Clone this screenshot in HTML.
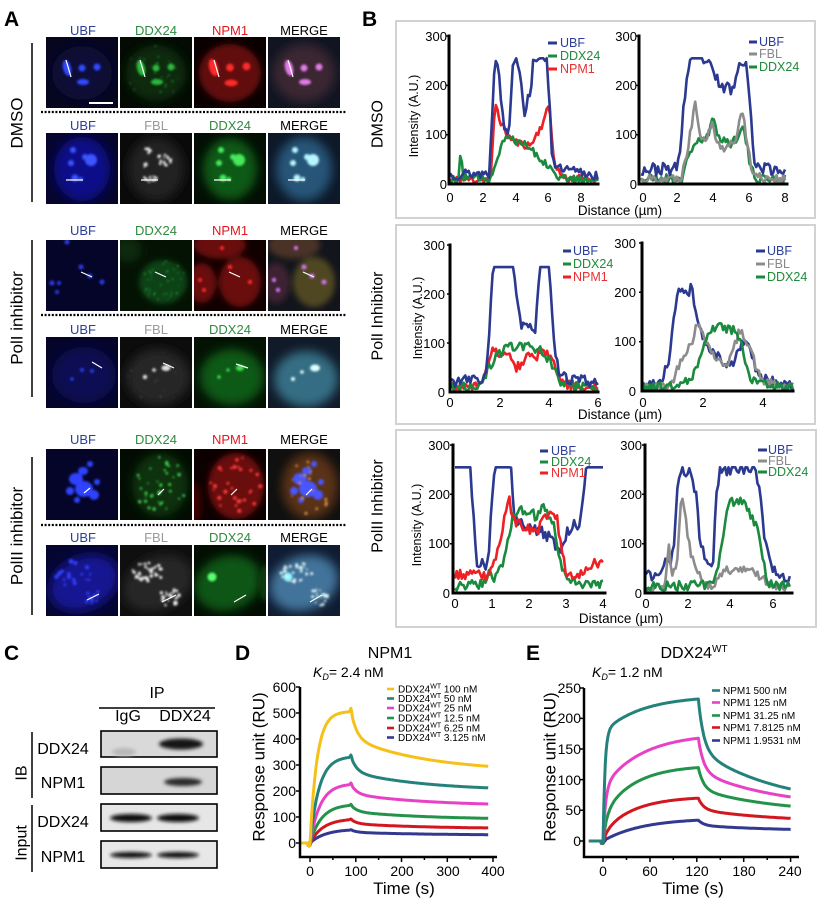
<!DOCTYPE html>
<html><head><meta charset="utf-8"><style>
html,body{margin:0;padding:0;background:#fff;}
svg{display:block;font-family:"Liberation Sans",Arial,sans-serif;}
</style></head><body>
<svg id="S" width="824" height="901" viewBox="0 0 824 901" xmlns="http://www.w3.org/2000/svg">
<defs>
<clipPath id="tc"><rect width="72" height="71"/></clipPath>
<filter id="b1" x="-50%" y="-50%" width="200%" height="200%"><feGaussianBlur stdDeviation="1"/></filter>
<filter id="b2" x="-50%" y="-50%" width="200%" height="200%"><feGaussianBlur stdDeviation="1.8"/></filter>
<filter id="b3" x="-30%" y="-30%" width="160%" height="160%"><feGaussianBlur stdDeviation="3"/></filter>
<filter id="b6" x="-30%" y="-30%" width="160%" height="160%"><feGaussianBlur stdDeviation="5"/></filter>
<g id="r1b"><ellipse cx="21" cy="31" rx="4" ry="8" transform="rotate(-15 21 31)"/><circle cx="36" cy="31" r="3.5"/><circle cx="51" cy="30" r="3.5"/><ellipse cx="37" cy="45" rx="6" ry="3"/></g>
<g id="r2b"><circle cx="27" cy="17" r="3"/><circle cx="25" cy="30" r="3"/><ellipse cx="45" cy="27" rx="6" ry="6"/><circle cx="39" cy="24" r="3"/><circle cx="29" cy="45" r="3.5"/><circle cx="35" cy="46" r="2"/></g>
<g id="r5b"><ellipse cx="30" cy="30" rx="7" ry="6"/><ellipse cx="38" cy="40" rx="9" ry="8"/><ellipse cx="48" cy="46" rx="5" ry="5"/><ellipse cx="24" cy="42" rx="4" ry="4"/><ellipse cx="37" cy="22" rx="5" ry="4"/><circle cx="51" cy="33" r="3"/><circle cx="31" cy="51" r="3"/><circle cx="44" cy="15" r="3"/></g>
</defs>
<rect width="824" height="901" fill="#fff"/>

<!-- Panel letters -->
<g font-weight="bold" font-size="21" fill="#000">
<text x="4" y="26">A</text><text x="362" y="26">B</text>
<text x="4" y="660">C</text><text x="235" y="660">D</text><text x="526" y="660">E</text>
</g>

<!-- Panel A headers -->
<g font-size="13" text-anchor="middle">
<g transform="translate(0,35)"><text x="83" fill="#2b3e9a">UBF</text><text x="156" fill="#2e8b3e">DDX24</text><text x="230" fill="#e5161d">NPM1</text><text x="304" fill="#000">MERGE</text></g>
<g transform="translate(0,130)"><text x="83" fill="#2b3e9a">UBF</text><text x="156" fill="#9a9a9a">FBL</text><text x="230" fill="#2e8b3e">DDX24</text><text x="304" fill="#000">MERGE</text></g>
<g transform="translate(0,235)"><text x="83" fill="#2b3e9a">UBF</text><text x="156" fill="#2e8b3e">DDX24</text><text x="230" fill="#e5161d">NPM1</text><text x="304" fill="#000">MERGE</text></g>
<g transform="translate(0,334)"><text x="83" fill="#2b3e9a">UBF</text><text x="156" fill="#9a9a9a">FBL</text><text x="230" fill="#2e8b3e">DDX24</text><text x="304" fill="#000">MERGE</text></g>
<g transform="translate(0,444)"><text x="83" fill="#2b3e9a">UBF</text><text x="156" fill="#2e8b3e">DDX24</text><text x="230" fill="#e5161d">NPM1</text><text x="304" fill="#000">MERGE</text></g>
<g transform="translate(0,542)"><text x="83" fill="#2b3e9a">UBF</text><text x="156" fill="#9a9a9a">FBL</text><text x="230" fill="#2e8b3e">DDX24</text><text x="304" fill="#000">MERGE</text></g>
</g>
<g font-size="17" text-anchor="middle" dominant-baseline="central">
<text transform="translate(17,123) rotate(-90)">DMSO</text>
<text transform="translate(17,318) rotate(-90)">PolI inhibitor</text>
<text transform="translate(17,536) rotate(-90)">PolII inhibitor</text>
</g>
<g stroke="#000" stroke-width="1.5"><line x1="32" y1="43" x2="32" y2="202"/><line x1="32" y1="240" x2="32" y2="397"/><line x1="32" y1="457" x2="32" y2="615"/></g>
<g stroke="#000" stroke-width="2.2" stroke-dasharray="2,1.6"><line x1="41" y1="112" x2="347" y2="112"/><line x1="41" y1="315" x2="347" y2="315"/><line x1="41" y1="525" x2="347" y2="525"/></g>

<!-- ROW 1 -->
<g transform="translate(46,37)" clip-path="url(#tc)"><rect width="72" height="71" fill="#06061f"/><ellipse cx="36" cy="36" rx="30" ry="27" fill="#0a0a38" filter="url(#b6)"/><use href="#r1b" fill="#3048ff" filter="url(#b1)"/><line x1="20" y1="23" x2="25" y2="40" stroke="#fff" stroke-width="1.2"/><line x1="43" y1="66" x2="67" y2="66" stroke="#fff" stroke-width="2"/></g>
<g transform="translate(120,37)" clip-path="url(#tc)"><rect width="72" height="71" fill="#030b03"/><ellipse cx="36" cy="36" rx="30" ry="28" fill="#092a0c" filter="url(#b6)"/><g id="s11"></g><use href="#r1b" fill="#2cb83e" filter="url(#b1)"/><line x1="20" y1="23" x2="25" y2="40" stroke="#fff" stroke-width="1.2"/></g>
<g transform="translate(194,37)" clip-path="url(#tc)"><rect width="72" height="71" fill="#0a0000"/><ellipse cx="36" cy="36" rx="31" ry="29" fill="#620a0a" filter="url(#b3)"/><use href="#r1b" fill="#ff2a2a" filter="url(#b1)" transform="translate(-3.6,-3.6) scale(1.1)"/><line x1="20" y1="23" x2="25" y2="40" stroke="#fff" stroke-width="1.2"/></g>
<g transform="translate(268,37)" clip-path="url(#tc)"><rect width="72" height="71" fill="#111522"/><ellipse cx="36" cy="36" rx="31" ry="29" fill="#3a2830" filter="url(#b6)"/><use href="#r1b" fill="#e37ae8" filter="url(#b1)"/><line x1="20" y1="23" x2="25" y2="40" stroke="#fff" stroke-width="1.2"/></g>

<!-- ROW 2 -->
<g transform="translate(46,133)" clip-path="url(#tc)"><rect width="72" height="71" fill="#05052e"/><ellipse cx="36" cy="36" rx="28" ry="32" fill="#10108a" filter="url(#b6)"/><use href="#r2b" fill="#3a55ff" filter="url(#b1)"/><line x1="20" y1="47" x2="37" y2="47" stroke="#fff" stroke-width="1.2"/></g>
<g transform="translate(120,133)" clip-path="url(#tc)"><rect width="72" height="71" fill="#0a0a0a"/><ellipse cx="36" cy="36" rx="28" ry="32" fill="#202020" filter="url(#b6)"/><g id="s22"></g><line x1="21" y1="47" x2="38" y2="47" stroke="#fff" stroke-width="1.2"/></g>
<g transform="translate(194,133)" clip-path="url(#tc)"><rect width="72" height="71" fill="#030e04"/><ellipse cx="36" cy="36" rx="27" ry="31" fill="#0d5a18" filter="url(#b6)"/><use href="#r2b" fill="#46e85a" filter="url(#b1)"/><line x1="20" y1="47" x2="37" y2="47" stroke="#fff" stroke-width="1.2"/></g>
<g transform="translate(268,133)" clip-path="url(#tc)"><rect width="72" height="71" fill="#0d1828"/><ellipse cx="36" cy="36" rx="28" ry="32" fill="#285578" filter="url(#b6)"/><use href="#r2b" fill="#b8f6ff" filter="url(#b1)"/><line x1="20" y1="47" x2="37" y2="47" stroke="#fff" stroke-width="1.2"/></g>

<!-- ROW 3 -->
<g transform="translate(46,240)" clip-path="url(#tc)"><rect width="72" height="71" fill="#05052a"/><g fill="#2a3ae8" filter="url(#b1)"><circle cx="21" cy="2" r="2.5"/><circle cx="35" cy="27" r="2.5"/><circle cx="6" cy="43" r="2.5"/><circle cx="13" cy="43" r="2"/><circle cx="11" cy="52" r="2"/><circle cx="56" cy="42" r="2.5"/><circle cx="44" cy="36" r="2.5"/></g><line x1="35" y1="32" x2="46" y2="37" stroke="#fff" stroke-width="1.2"/></g>
<g transform="translate(120,240)" clip-path="url(#tc)"><rect width="72" height="71" fill="#041204"/><ellipse cx="43" cy="42" rx="24" ry="22" fill="#0c4212" filter="url(#b3)"/><ellipse cx="8" cy="10" rx="14" ry="12" fill="#082a0a" filter="url(#b6)"/><g id="s32"></g><line x1="35" y1="32" x2="46" y2="37" stroke="#fff" stroke-width="1.2"/></g>
<g transform="translate(194,240)" clip-path="url(#tc)"><rect width="72" height="71" fill="#100000"/><g fill="#6a0a0a" filter="url(#b3)"><ellipse cx="26" cy="5" rx="26" ry="14"/><ellipse cx="8" cy="43" rx="14" ry="20"/><ellipse cx="46" cy="42" rx="21" ry="25"/></g><g fill="#ff2a2a" filter="url(#b1)"><circle cx="36" cy="27" r="2.2"/><circle cx="56" cy="42" r="2.2"/><circle cx="6" cy="40" r="2"/><circle cx="10" cy="50" r="2"/><circle cx="28" cy="8" r="2"/></g><line x1="35" y1="32" x2="46" y2="37" stroke="#fff" stroke-width="1.2"/></g>
<g transform="translate(268,240)" clip-path="url(#tc)"><rect width="72" height="71" fill="#13151c"/><g filter="url(#b3)"><ellipse cx="26" cy="5" rx="26" ry="14" fill="#4a3228"/><ellipse cx="8" cy="43" rx="14" ry="20" fill="#3e2430"/><ellipse cx="46" cy="42" rx="21" ry="25" fill="#504620"/></g><g fill="#d070f0" filter="url(#b1)"><circle cx="36" cy="27" r="2.5"/><circle cx="56" cy="42" r="2.5"/><circle cx="6" cy="40" r="2.2"/><circle cx="10" cy="50" r="2.2"/><circle cx="28" cy="8" r="2.2"/><circle cx="44" cy="36" r="2.5"/></g><line x1="35" y1="32" x2="46" y2="37" stroke="#fff" stroke-width="1.2"/></g>

<!-- ROW 4 -->
<g transform="translate(46,337)" clip-path="url(#tc)"><rect width="72" height="71" fill="#05052a"/><ellipse cx="38" cy="38" rx="32" ry="28" fill="#0c0c52" filter="url(#b6)"/><g fill="#2a3ae8" filter="url(#b1)"><circle cx="36" cy="33" r="2"/><circle cx="46" cy="34" r="2"/><circle cx="26" cy="42" r="1.8"/></g><line x1="46" y1="25" x2="56" y2="31" stroke="#fff" stroke-width="1.2"/></g>
<g transform="translate(120,337)" clip-path="url(#tc)"><rect width="72" height="71" fill="#0c0c0c"/><ellipse cx="38" cy="40" rx="32" ry="28" fill="#262626" filter="url(#b6)"/><g id="s42"></g><g fill="#e0e0e0" filter="url(#b1)"><circle cx="25" cy="40" r="2.2"/><circle cx="34" cy="33" r="1.8"/><ellipse cx="46" cy="31" rx="4.5" ry="3"/></g><line x1="43" y1="26" x2="54" y2="31" stroke="#fff" stroke-width="1.2"/></g>
<g transform="translate(194,337)" clip-path="url(#tc)"><rect width="72" height="71" fill="#041204"/><ellipse cx="38" cy="40" rx="32" ry="28" fill="#105a19" filter="url(#b6)"/><g fill="#40e050" filter="url(#b1)"><circle cx="25" cy="40" r="1.8"/><circle cx="34" cy="33" r="1.6"/><ellipse cx="46" cy="31" rx="4" ry="3"/></g><line x1="42" y1="27" x2="54" y2="31" stroke="#fff" stroke-width="1.2"/></g>
<g transform="translate(268,337)" clip-path="url(#tc)"><rect width="72" height="71" fill="#101a28"/><ellipse cx="38" cy="42" rx="32" ry="28" fill="#356e84" filter="url(#b6)"/><g fill="#e0ffff" filter="url(#b1)"><circle cx="25" cy="42" r="2"/><circle cx="34" cy="35" r="1.8"/><ellipse cx="47" cy="31" rx="5" ry="3.5"/></g></g>

<!-- ROW 5 -->
<g transform="translate(46,449)" clip-path="url(#tc)"><rect width="72" height="71" fill="#05052a"/><use href="#r5b" fill="#2e42ff" filter="url(#b1)"/><line x1="38" y1="44" x2="44" y2="39" stroke="#fff" stroke-width="1.2"/></g>
<g transform="translate(120,449)" clip-path="url(#tc)"><rect width="72" height="71" fill="#020c02"/><ellipse cx="40" cy="36" rx="28" ry="32" fill="#0a320e" filter="url(#b6)"/><g id="s52"></g><line x1="38" y1="46" x2="44" y2="40" stroke="#fff" stroke-width="1.2"/></g>
<g transform="translate(194,449)" clip-path="url(#tc)"><rect width="72" height="71" fill="#0c0000"/><ellipse cx="0" cy="55" rx="8" ry="22" fill="#3a0606" filter="url(#b3)"/><ellipse cx="42" cy="37" rx="28" ry="33" fill="#6a0c0c" filter="url(#b3)"/><g id="s53"></g><line x1="37" y1="46" x2="43" y2="40" stroke="#fff" stroke-width="1.2"/></g>
<g transform="translate(268,449)" clip-path="url(#tc)"><rect width="72" height="71" fill="#101010"/><ellipse cx="42" cy="37" rx="28" ry="33" fill="#5a3018" filter="url(#b6)"/><use href="#r5b" fill="#4a55ff" filter="url(#b1)" transform="translate(2,0)"/><g id="s54"></g><line x1="38" y1="46" x2="44" y2="40" stroke="#fff" stroke-width="1.2"/></g>

<!-- ROW 6 -->
<g transform="translate(46,545)" clip-path="url(#tc)"><rect width="72" height="71" fill="#050532"/><ellipse cx="38" cy="38" rx="36" ry="26" transform="rotate(-25 38 38)" fill="#131392" filter="url(#b6)"/><g id="s61"></g><line x1="41" y1="55" x2="53" y2="49" stroke="#fff" stroke-width="1.2"/></g>
<g transform="translate(120,545)" clip-path="url(#tc)"><rect width="72" height="71" fill="#0f0f0f"/><ellipse cx="38" cy="38" rx="36" ry="26" transform="rotate(-25 38 38)" fill="#262626" filter="url(#b6)"/><g id="s62"></g><line x1="42" y1="57" x2="56" y2="50" stroke="#fff" stroke-width="1.2"/></g>
<g transform="translate(194,545)" clip-path="url(#tc)"><rect width="72" height="71" fill="#030e03"/><ellipse cx="34" cy="38" rx="34" ry="27" transform="rotate(-20 34 38)" fill="#0e5618" filter="url(#b6)"/><ellipse cx="72" cy="38" rx="8" ry="18" fill="#0a3a10" filter="url(#b3)"/><circle cx="18" cy="32" r="4.5" fill="#5cff70" filter="url(#b1)"/><line x1="40" y1="57" x2="52" y2="50" stroke="#fff" stroke-width="1.2"/></g>
<g transform="translate(268,545)" clip-path="url(#tc)"><rect width="72" height="71" fill="#0f1c32"/><ellipse cx="36" cy="38" rx="35" ry="27" transform="rotate(-20 36 38)" fill="#42739a" filter="url(#b6)"/><circle cx="20" cy="32" r="4.5" fill="#8ff8ff" filter="url(#b1)"/><g id="s64"></g><line x1="42" y1="57" x2="54" y2="50" stroke="#fff" stroke-width="1.2"/></g>

<!-- Panel B boxes -->
<g fill="none" stroke="#d2d2d2" stroke-width="2">
<rect x="396" y="21" width="419" height="197"/>
<rect x="396" y="225" width="419" height="199"/>
<rect x="396" y="430" width="420" height="197"/>
</g>
<g font-size="16" text-anchor="middle" dominant-baseline="central">
<text transform="translate(378,124) rotate(-90)">DMSO</text>
<text transform="translate(378,316) rotate(-90)">PolI Inhibitor</text>
<text transform="translate(378,506) rotate(-90)">PolII Inhibitor</text>
</g>
<g font-size="12.5" text-anchor="middle" dominant-baseline="central">
<text transform="translate(414,116) rotate(-90)">Intensity (A.U.)</text>
<text transform="translate(418,318) rotate(-90)">Intensity (A.U.)</text>
<text transform="translate(417,525) rotate(-90)">Intensity (A.U.)</text>
</g>
<g font-size="13.5" text-anchor="middle">
<text x="620" y="215">Distance (µm)</text>
<text x="620" y="419">Distance (µm)</text>
<text x="621" y="623">Distance (µm)</text>
</g>

<!-- traces containers -->
<g id="p1l"></g><g id="p1r"></g><g id="p2l"></g><g id="p2r"></g><g id="p3l"></g><g id="p3r"></g>

<!-- B axes -->
<g stroke="#000" stroke-width="3" fill="none" stroke-linecap="square">
<path d="M449 36 V184 H598"/><path d="M639 36 V184 H787"/>
<path d="M450 245 V392 H598"/><path d="M642 243 V391 H793"/>
<path d="M453 445 V593 H605"/><path d="M645 445 V593 H792"/>
</g>
<g stroke="#000" stroke-width="1.5">
<path d="M446 36H449M446 85.4H449M446 134.7H449M639 36H636M639 85.4H636M639 134.7H636"/>
<path d="M447 245H450M447 294H450M447 343H450M642 243H639M642 292.3H639M642 341.7H639"/>
<path d="M450 445H453M450 494.3H453M450 543.7H453M645 445H642M645 494.3H642M645 543.7H642"/>
</g>
<g font-size="13" text-anchor="end">
<text x="447" y="41">300</text><text x="447" y="90">200</text><text x="447" y="139">100</text><text x="447" y="189">0</text>
<text x="637" y="41">300</text><text x="637" y="90">200</text><text x="637" y="139">100</text><text x="637" y="189">0</text>
<text x="445" y="250">300</text><text x="445" y="299">200</text><text x="445" y="348">100</text><text x="445" y="397">0</text>
<text x="636" y="248">300</text><text x="636" y="297">200</text><text x="636" y="346">100</text><text x="636" y="396">0</text>
<text x="450" y="450">300</text><text x="450" y="499">200</text><text x="450" y="548">100</text><text x="450" y="598">0</text>
<text x="642" y="450">300</text><text x="642" y="499">200</text><text x="642" y="548">100</text><text x="642" y="598">0</text>
</g>
<g font-size="13" text-anchor="middle">
<text x="450" y="202">0</text><text x="483" y="202">2</text><text x="516" y="202">4</text><text x="548" y="202">6</text><text x="581" y="202">8</text>
<text x="643" y="202">0</text><text x="677" y="202">2</text><text x="713" y="202">4</text><text x="749" y="202">6</text><text x="785" y="202">8</text>
<text x="450" y="407">0</text><text x="500" y="407">2</text><text x="549" y="407">4</text><text x="598" y="407">6</text>
<text x="643" y="407">0</text><text x="703" y="407">2</text><text x="763" y="407">4</text>
<text x="455" y="608">0</text><text x="492" y="608">1</text><text x="529" y="608">2</text><text x="566" y="608">3</text><text x="603" y="608">4</text>
<text x="646" y="608">0</text><text x="688" y="608">2</text><text x="730" y="608">4</text><text x="773" y="608">6</text>
</g>
<!-- B legends -->
<g stroke-width="3">
<line x1="548" y1="43" x2="557" y2="43" stroke="#2b3990"/><line x1="548" y1="56" x2="557" y2="56" stroke="#1a8a3e"/><line x1="548" y1="69" x2="557" y2="69" stroke="#ed2024"/>
<line x1="749" y1="42" x2="757" y2="42" stroke="#2b3990"/><line x1="749" y1="54" x2="757" y2="54" stroke="#8c8c8c"/><line x1="749" y1="67" x2="757" y2="67" stroke="#1a8a3e"/>
<line x1="563" y1="251" x2="571" y2="251" stroke="#2b3990"/><line x1="563" y1="264" x2="571" y2="264" stroke="#1a8a3e"/><line x1="563" y1="277" x2="571" y2="277" stroke="#ed2024"/>
<line x1="756" y1="251" x2="765" y2="251" stroke="#2b3990"/><line x1="756" y1="264" x2="765" y2="264" stroke="#8c8c8c"/><line x1="756" y1="277" x2="765" y2="277" stroke="#1a8a3e"/>
<line x1="540" y1="451" x2="548" y2="451" stroke="#2b3990"/><line x1="540" y1="462" x2="548" y2="462" stroke="#1a8a3e"/><line x1="540" y1="473" x2="548" y2="473" stroke="#ed2024"/>
<line x1="758" y1="450" x2="767" y2="450" stroke="#2b3990"/><line x1="758" y1="461" x2="767" y2="461" stroke="#8c8c8c"/><line x1="758" y1="472" x2="767" y2="472" stroke="#1a8a3e"/>
</g>
<g font-size="12.5">
<text x="560" y="47" fill="#2b3e9a">UBF</text><text x="560" y="60" fill="#1f8a3a">DDX24</text><text x="560" y="73" fill="#e83030">NPM1</text>
<text x="759" y="46" fill="#2b3e9a">UBF</text><text x="759" y="58" fill="#888">FBL</text><text x="759" y="71" fill="#1f8a3a">DDX24</text>
<text x="573" y="255" fill="#2b3e9a">UBF</text><text x="573" y="268" fill="#1f8a3a">DDX24</text><text x="573" y="281" fill="#e83030">NPM1</text>
<text x="767" y="255" fill="#2b3e9a">UBF</text><text x="767" y="268" fill="#888">FBL</text><text x="767" y="281" fill="#1f8a3a">DDX24</text>
<text x="551" y="455" fill="#2b3e9a">UBF</text><text x="551" y="466" fill="#1f8a3a">DDX24</text><text x="551" y="477" fill="#e83030">NPM1</text>
<text x="768" y="454" fill="#2b3e9a">UBF</text><text x="768" y="465" fill="#888">FBL</text><text x="768" y="476" fill="#1f8a3a">DDX24</text>
</g>

<!-- Panel C -->
<g font-size="16">
<text x="157" y="698" text-anchor="middle">IP</text>
<line x1="99" y1="708" x2="215" y2="708" stroke="#000" stroke-width="1.5"/>
<text x="128" y="721" text-anchor="middle">IgG</text><text x="185" y="721" text-anchor="middle">DDX24</text>
<g text-anchor="middle"><text x="63" y="754">DDX24</text><text x="63" y="788">NPM1</text><text x="63" y="827">DDX24</text><text x="63" y="862">NPM1</text></g>
<text transform="translate(22,773) rotate(-90)" text-anchor="middle" dominant-baseline="central">IB</text>
<text transform="translate(22,843) rotate(-90)" text-anchor="middle" dominant-baseline="central">Input</text>
</g>
<g stroke="#000" stroke-width="1.5"><line x1="32" y1="732" x2="32" y2="798"/><line x1="32" y1="805" x2="32" y2="872"/></g>
<g stroke="#000" stroke-width="1.6">
<rect x="101" y="731" width="116" height="26" fill="#d9d9d9"/>
<rect x="101" y="767" width="116" height="27" fill="#d6d6d6"/>
<rect x="101" y="804" width="116" height="27" fill="#e6e6e6"/>
<rect x="101" y="841" width="116" height="27" fill="#e8e8e8"/>
</g>
<g filter="url(#b2)">
<ellipse cx="124" cy="752" rx="12" ry="4" fill="#b8b8b8"/>
<ellipse cx="181" cy="744" rx="22" ry="5.5" fill="#181818"/>
<ellipse cx="183" cy="782" rx="19" ry="4" fill="#2a2a2a"/>
<ellipse cx="131" cy="818" rx="21" ry="4" fill="#111"/><ellipse cx="178" cy="818" rx="21" ry="4" fill="#111"/>
<ellipse cx="131" cy="855" rx="21" ry="3" fill="#111"/><ellipse cx="178" cy="855" rx="21" ry="3" fill="#111"/>
</g>

<!-- Panel D -->
<text x="390" y="658" font-size="16" text-anchor="middle">NPM1</text>
<text x="313" y="677" font-size="14"><tspan font-style="italic">K</tspan><tspan font-style="italic" font-size="9" dy="3">D</tspan><tspan dy="-3">= 2.4 nM</tspan></text>
<g id="pd"></g>
<g stroke="#000" stroke-width="2.5" fill="none"><path d="M300 687 V857 H497"/></g>
<g stroke="#000" stroke-width="1.5"><path d="M296 687H300M296 713H300M296 739H300M296 765H300M296 791H300M296 817H300M296 843H300"/>
<path d="M310 857V862M332.9 857V860M355.8 857V862M378.6 857V860M401.5 857V862M424.4 857V860M447.3 857V862M470.1 857V860M493 857V862"/></g>
<g font-size="14" text-anchor="end"><text x="296" y="692">600</text><text x="296" y="718">500</text><text x="296" y="744">400</text><text x="296" y="770">300</text><text x="296" y="796">200</text><text x="296" y="822">100</text><text x="296" y="848">0</text></g>
<g font-size="14" text-anchor="middle"><text x="310" y="876">0</text><text x="356" y="876">100</text><text x="402" y="876">200</text><text x="448" y="876">300</text><text x="493" y="876">400</text></g>
<text x="404" y="894" font-size="17" text-anchor="middle">Time (s)</text>
<text transform="translate(259,767) rotate(-90)" font-size="17" text-anchor="middle" dominant-baseline="central">Response unit (RU)</text>
<g stroke-width="2.6">
<line x1="387" y1="689" x2="394" y2="689" stroke="#f5c118"/><line x1="387" y1="698.5" x2="394" y2="698.5" stroke="#24827b"/><line x1="387" y1="708" x2="394" y2="708" stroke="#e741c6"/><line x1="387" y1="718" x2="394" y2="718" stroke="#23924a"/><line x1="387" y1="728" x2="394" y2="728" stroke="#d3171f"/><line x1="387" y1="737.5" x2="394" y2="737.5" stroke="#33398f"/>
</g>
<g font-size="10">
<text x="398" y="692.5">DDX24<tspan font-size="7" dy="-4">WT</tspan><tspan dy="4"> 100 nM</tspan></text>
<text x="398" y="702">DDX24<tspan font-size="7" dy="-4">WT</tspan><tspan dy="4"> 50 nM</tspan></text>
<text x="398" y="711.5">DDX24<tspan font-size="7" dy="-4">WT</tspan><tspan dy="4"> 25 nM</tspan></text>
<text x="398" y="721.5">DDX24<tspan font-size="7" dy="-4">WT</tspan><tspan dy="4"> 12.5 nM</tspan></text>
<text x="398" y="731.5">DDX24<tspan font-size="7" dy="-4">WT</tspan><tspan dy="4"> 6.25 nM</tspan></text>
<text x="398" y="741">DDX24<tspan font-size="7" dy="-4">WT</tspan><tspan dy="4"> 3.125 nM</tspan></text>
</g>

<!-- Panel E -->
<text x="694" y="658" font-size="16" text-anchor="middle">DDX24<tspan font-size="10" dy="-6">WT</tspan></text>
<text x="592" y="677" font-size="14"><tspan font-style="italic">K</tspan><tspan font-style="italic" font-size="9" dy="3">D</tspan><tspan dy="-3">= 1.2 nM</tspan></text>
<g id="pe"></g>
<g stroke="#000" stroke-width="2.5" fill="none"><path d="M584 688 V857 H799"/></g>
<g stroke="#000" stroke-width="1.5"><path d="M580 688H584M580 718.4H584M580 749H584M580 779.6H584M580 810.2H584M580 841H584"/>
<path d="M603 857V862M626.5 857V860M650 857V862M673.3 857V860M696.8 857V862M720.3 857V860M743.7 857V862M767.2 857V860M790.6 857V862"/></g>
<g font-size="14" text-anchor="end"><text x="581" y="693">250</text><text x="581" y="723">200</text><text x="581" y="754">150</text><text x="581" y="785">100</text><text x="581" y="815">50</text><text x="581" y="846">0</text></g>
<g font-size="14" text-anchor="middle"><text x="603" y="876">0</text><text x="650" y="876">60</text><text x="697" y="876">120</text><text x="744" y="876">180</text><text x="790" y="876">240</text></g>
<text x="693" y="894" font-size="17" text-anchor="middle">Time (s)</text>
<text transform="translate(550,767) rotate(-90)" font-size="17" text-anchor="middle" dominant-baseline="central">Response unit (RU)</text>
<g stroke-width="2.6">
<line x1="712" y1="690.5" x2="720" y2="690.5" stroke="#24827b"/><line x1="712" y1="702.5" x2="720" y2="702.5" stroke="#e741c6"/><line x1="712" y1="715.5" x2="720" y2="715.5" stroke="#23924a"/><line x1="712" y1="727.5" x2="720" y2="727.5" stroke="#d3171f"/><line x1="712" y1="740.5" x2="720" y2="740.5" stroke="#33398f"/>
</g>
<g font-size="10">
<text x="723" y="694">NPM1 500 nM</text><text x="723" y="706">NPM1 125 nM</text><text x="723" y="719">NPM1 31.25 nM</text><text x="723" y="731">NPM1 7.8125 nM</text><text x="723" y="744">NPM1 1.9531 nM</text>
</g>
</svg>
<script>
(function(){
const NS='http://www.w3.org/2000/svg';
function rng(a){return function(){a|=0;a=a+0x6D2B79F5|0;let t=Math.imul(a^a>>>15,1|a);t=t+Math.imul(t^t>>>7,61|t)^t;return((t^t>>>14)>>>0)/4294967296;};}
function interp(kp,x){if(x<=kp[0][0])return kp[0][1];for(let i=1;i<kp.length;i++){if(x<=kp[i][0]){const a=kp[i-1],b=kp[i];return a[1]+(b[1]-a[1])*(x-a[0])/(b[0]-a[0]);}}return kp[kp.length-1][1];}
function poly(g,pts,color,w){const p=document.createElementNS(NS,'polyline');p.setAttribute('points',pts.join(' '));p.setAttribute('fill','none');p.setAttribute('stroke',color);p.setAttribute('stroke-width',w);p.setAttribute('stroke-linejoin','round');g.appendChild(p);}
function trace(g,ax,kp,xmax,noise,color,seed){const r=rng(seed);const n=Math.round(xmax*ax.xs/1.7);const pts=[];for(let i=0;i<=n;i++){const x=xmax*i/n;let v=interp(kp,x)+(r()-0.5)*2*noise;if(v<2)v=2+r()*4;if(v>255)v=255;pts.push((ax.x0+x*ax.xs).toFixed(1)+','+(ax.y0-v*ax.ys).toFixed(1));}poly(document.getElementById(g),pts,color,2.6);}
const U='#2b3990',G='#1a8a3e',R='#ed2024',F='#8c8c8c';
const A1={x0:450,xs:16.4,y0:184,ys:0.493},A2={x0:641,xs:18,y0:184,ys:0.493},A3={x0:450,xs:24.7,y0:392,ys:0.49},A4={x0:643,xs:30,y0:391,ys:0.493},A5={x0:455,xs:37,y0:593,ys:0.493},A6={x0:645,xs:21.3,y0:593,ys:0.493};
trace('p1l',A1,[[0,8],[2.5,10],[2.65,110],[2.78,165],[3.0,135],[3.3,110],[3.6,95],[4.0,85],[4.5,80],[4.9,78],[5.2,95],[5.6,120],[5.9,145],[6.05,165],[6.2,100],[6.4,35],[7,12],[9,10]],9,8,R,11);
trace('p1l',A1,[[0,8],[0.55,10],[0.65,75],[0.78,15],[2.4,10],[2.8,45],[3.2,85],[3.5,100],[4.0,88],[4.5,85],[5.0,70],[5.5,50],[6.0,40],[6.5,18],[7,10],[9,8]],9,8,G,12);
trace('p1l',A1,[[0,20],[2.4,22],[2.55,120],[2.7,240],[2.85,262],[3.0,230],[3.15,150],[3.35,105],[3.6,110],[3.8,230],[3.95,262],[4.2,245],[4.4,190],[4.55,145],[4.75,170],[4.95,200],[5.1,258],[5.9,258],[6.05,180],[6.2,70],[6.5,30],[9,18]],9,11,U,13);
trace('p1r',A2,[[0,10],[2.3,12],[2.6,50],[2.9,80],[3.2,90],[3.5,85],[3.8,105],[4.0,130],[4.3,100],[4.6,90],[5.0,80],[5.3,95],[5.6,120],[5.8,95],[6.1,30],[6.4,12],[8,10]],8,10,G,21);
trace('p1r',A2,[[0,10],[2.2,12],[2.6,70],[2.85,130],[3.0,180],[3.15,130],[3.35,95],[3.6,95],[3.9,125],[4.2,95],[4.5,70],[5.0,80],[5.3,95],[5.6,150],[5.8,110],[6.1,40],[6.4,15],[8,10]],8,10,F,22);
trace('p1r',A2,[[0,30],[1.9,30],[2.1,45],[2.4,170],[2.7,250],[2.8,256],[3.6,252],[4.0,225],[4.5,195],[5.2,195],[5.45,250],[5.6,256],[5.9,240],[6.05,160],[6.25,55],[6.5,35],[8,28]],8,13,U,23);
trace('p2l',A3,[[0,10],[1.3,12],[1.55,50],[1.7,100],[1.9,80],[2.2,70],[2.5,70],[2.7,50],[3.0,68],[3.5,72],[3.9,80],[4.2,55],[4.5,20],[5,10],[6,8]],6,11,R,31);
trace('p2l',A3,[[0,10],[1.2,12],[1.6,50],[2.0,78],[2.5,95],[3.0,95],[3.5,85],[3.8,80],[4.2,50],[4.5,20],[5,12],[6,10]],6,11,G,32);
trace('p2l',A3,[[0,20],[1.4,28],[1.55,80],[1.7,230],[1.8,265],[2.55,265],[2.7,200],[2.85,140],[3.0,130],[3.45,130],[3.6,240],[3.7,265],[4.0,262],[4.1,180],[4.25,70],[4.5,30],[6,18]],6,11,U,33);
trace('p2r',A4,[[0,10],[0.6,15],[0.85,60],[1.0,130],[1.15,205],[1.3,210],[1.5,200],[1.65,215],[1.75,160],[1.9,125],[2.1,95],[2.4,75],[2.7,60],[3.0,58],[3.2,80],[3.4,110],[3.55,80],[3.75,45],[4.0,25],[4.5,15],[5,10]],5,11,U,41);
trace('p2r',A4,[[0,8],[0.9,10],[1.05,30],[1.3,70],[1.6,95],[1.8,135],[2.0,120],[2.2,90],[2.5,60],[2.8,55],[3.0,80],[3.2,120],[3.4,110],[3.6,85],[3.8,40],[4.0,20],[4.5,10],[5,8]],5,9,F,42);
trace('p2r',A4,[[0,8],[1.2,10],[1.5,20],[1.8,45],[2.0,80],[2.2,120],[2.5,135],[2.8,125],[3.1,122],[3.25,105],[3.4,50],[3.6,25],[4.0,12],[5,8]],5,9,G,43);
trace('p3l',A5,[[0,270],[0.4,270],[0.5,150],[0.58,65],[0.9,55],[1.0,190],[1.08,270],[1.5,270],[1.6,150],[1.8,145],[2.0,130],[2.3,125],[2.6,110],[2.85,82],[3.0,120],[3.2,145],[3.35,135],[3.45,190],[3.55,270],[4,270]],4,12,U,51);
trace('p3l',A5,[[0,15],[0.6,17],[0.8,25],[0.95,40],[1.1,30],[1.3,60],[1.5,130],[1.6,165],[1.8,170],[2.0,165],[2.2,155],[2.4,185],[2.5,160],[2.7,130],[2.85,60],[3.0,28],[3.3,22],[3.6,15],[4,20]],4,10,G,52);
trace('p3l',A5,[[0,38],[0.9,35],[1.0,45],[1.2,100],[1.4,180],[1.45,200],[1.55,150],[1.7,140],[2.0,130],[2.2,120],[2.4,150],[2.6,160],[2.75,160],[2.85,100],[3.0,42],[3.2,35],[3.5,45],[3.8,60],[4,55]],4,10,R,53);
trace('p3r',A6,[[0,35],[0.8,40],[1.0,70],[1.2,60],[1.35,90],[1.5,200],[1.7,245],[2.0,250],[2.2,230],[2.4,200],[2.55,120],[2.8,70],[3.0,55],[3.2,70],[3.35,200],[3.5,250],[5.2,250],[5.35,220],[5.5,150],[5.7,90],[6.0,50],[6.5,30],[6.8,25]],6.8,12,U,61);
trace('p3r',A6,[[0,10],[0.9,12],[1.0,40],[1.1,110],[1.25,30],[1.5,60],[1.65,170],[1.8,190],[2.0,120],[2.2,70],[2.5,40],[2.8,25],[3.0,12],[3.4,25],[3.7,45],[4.5,50],[5.0,45],[5.5,30],[6.0,15],[6.8,10]],6.8,8,F,62);
trace('p3r',A6,[[0,15],[3.2,15],[3.4,40],[3.6,100],[3.8,160],[4.0,195],[4.3,180],[4.7,190],[5.0,150],[5.3,130],[5.55,60],[5.8,20],[6.0,15],[6.8,15]],6.8,10,G,63);
// SPR D
const gd=document.getElementById('pd');
[{c:'#33398f',P:50,E:32,k:0.03},{c:'#d3171f',P:90,E:58,k:0.035},{c:'#23924a',P:145,E:95,k:0.04},{c:'#e741c6',P:225,E:150,k:0.045},{c:'#24827b',P:330,E:212,k:0.05},{c:'#f5c118',P:505,E:295,k:0.065}].forEach(o=>{
 const r=o.E/o.P, f=(r-0.0925)/0.9075; const pts=[];
 for(let t=-20;t<=390;t+=1.5){let R;
  if(t<0)R=(t>-4?-10:0);
  else if(t<=90){R=o.P*(1-Math.exp(-o.k*t))/(1-Math.exp(-90*o.k));if(t<3)R-=10*(1-t/3);if(t>86)R*=1+0.03*(t-86)/4;}
  else{const d=t-90;R=o.P*(f+(1-f)*(0.44*Math.exp(-0.08*d)+0.56*Math.exp(-0.006*d)));if(d<3)R*=1.03-0.01*d;}
  pts.push((310+t*0.4575).toFixed(1)+','+(843-R*0.26).toFixed(1));}
 poly(gd,pts,o.c,3);});
// SPR E
const ge=document.getElementById('pe');
[{c:'#33398f',P:34,E:19,c1:0,k1:0.1,k2:0.02},{c:'#d3171f',P:70,E:37,c1:0.2,k1:0.15,k2:0.025},{c:'#23924a',P:120,E:57,c1:0.35,k1:0.2,k2:0.025},{c:'#e741c6',P:168,E:72,c1:0.5,k1:0.3,k2:0.02},{c:'#24827b',P:232,E:85,c1:0.75,k1:0.4,k2:0.02}].forEach(o=>{
 const Af=t=>o.c1*(1-Math.exp(-o.k1*t))+(1-o.c1)*(1-Math.exp(-o.k2*t));const A122=Af(122);
 const r=o.E/o.P,f=(r-0.163)/0.837;const pts=[];
 for(let t=-18;t<=240;t+=1){let R;
  if(t<0)R=(t>-3?-4:0);
  else if(t<=122){R=o.P*Af(t)/A122;if(t<4)R-=4*(1-t/4);}
  else{const d=t-122;R=o.P*(f+(1-f)*(0.47*Math.exp(-0.15*d)+0.53*Math.exp(-0.01*d)));}
  pts.push((603+t*0.7817).toFixed(1)+','+(841-R*0.612).toFixed(1));}
 poly(ge,pts,o.c,3);});
// speckles
function speck(g,n,cx,cy,rx,ry,r0,r1,color,seed){const r=rng(seed);const G=document.getElementById(g);const h=document.createElementNS(NS,'g');h.setAttribute('filter','url(#b1)');h.setAttribute('fill',color);for(let i=0;i<n;i++){const a=r()*6.283,d=Math.sqrt(r());const c=document.createElementNS(NS,'circle');c.setAttribute('cx',(cx+Math.cos(a)*d*rx).toFixed(1));c.setAttribute('cy',(cy+Math.sin(a)*d*ry).toFixed(1));c.setAttribute('r',(r0+r()*(r1-r0)).toFixed(2));h.appendChild(c);}G.appendChild(h);}
speck('s11',25,36,36,30,28,0.5,1,'#2a9a3a',101);
speck('s22',10,27,18,4,3,0.8,1.4,'#f0f0f0',102);speck('s22',6,25,31,3,3,0.8,1.3,'#f0f0f0',103);speck('s22',16,44,27,7,7,0.8,1.5,'#f4f4f4',104);speck('s22',12,30,46,7,3,0.8,1.4,'#f4f4f4',105);
speck('s32',40,43,42,24,22,0.5,1,'#2aa83a',106);
speck('s42',15,38,40,30,26,0.5,0.9,'#555',107);
speck('s52',35,40,36,26,30,0.8,1.8,'#3ed04e',108);
speck('s53',28,42,37,26,30,1,2.2,'#ff3a3a',109);
speck('s54',18,42,37,26,30,0.8,1.6,'#d09050',110);
speck('s61',18,28,30,18,14,1,2.5,'#3040ff',111);speck('s61',10,48,52,10,7,1,2,'#3040ff',112);
speck('s62',38,28,27,16,10,0.9,1.8,'#ededed',113);speck('s62',26,50,53,11,9,0.9,1.8,'#ededed',114);
speck('s64',32,28,27,16,10,0.8,1.6,'#e8ffff',115);speck('s64',22,50,53,11,9,0.8,1.6,'#e8ffff',116);
})();
</script>
</body></html>
